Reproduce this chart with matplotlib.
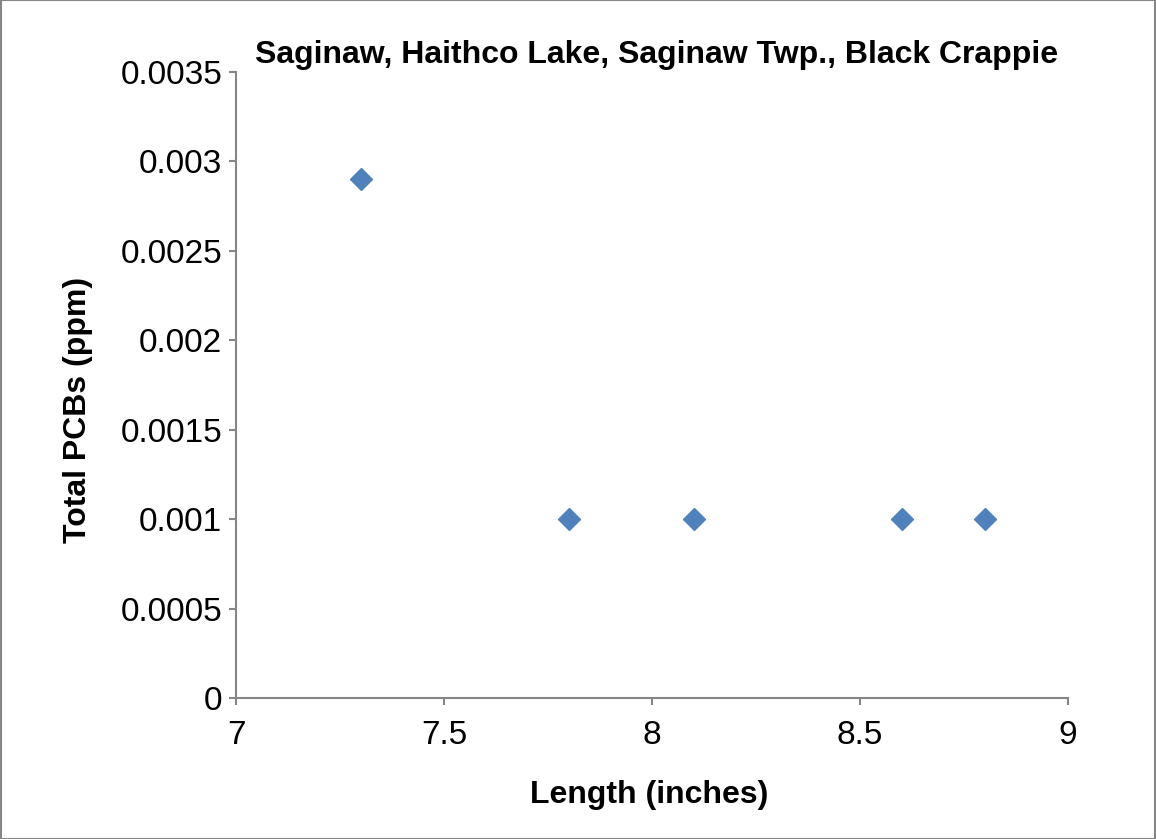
import matplotlib.pyplot as plt
from matplotlib.patches import Rectangle

length = [7.3, 7.8, 8.1, 8.6, 8.8]
pcbs = [0.0029, 0.001, 0.001, 0.001, 0.001]
yticks = [0, 0.0005, 0.001, 0.0015, 0.002, 0.0025, 0.003, 0.0035]
ylabels = ["0", "0.0005", "0.001", "0.0015", "0.002", "0.0025", "0.003", "0.0035"]
xticks = [7, 7.5, 8, 8.5, 9]
xlabels = ["7", "7.5", "8", "8.5", "9"]

plt.rcParams['font.family'] = ['Liberation Sans', 'DejaVu Sans']
fig = plt.figure(figsize=(11.56, 8.39), dpi=100)
ax = fig.add_axes([0.2042, 0.1681, 0.7197, 0.7461])

ax.plot(length, pcbs, linestyle='none', marker='D', ms=11,
        color='#4F81BD', markeredgecolor='#4F81BD', clip_on=False)

ax.set_xlim(7, 9)
ax.set_ylim(0, 0.0035)
ax.set_xticks(xticks)
ax.set_xticklabels(xlabels)
ax.set_yticks(yticks)
ax.set_yticklabels(ylabels)

for s in ['top', 'right']:
    ax.spines[s].set_visible(False)
for s in ['left', 'bottom']:
    ax.spines[s].set_color('#868686')
    ax.spines[s].set_linewidth(1.5)
ax.tick_params(length=5, width=1.5, color='#868686', labelsize=24, pad=5)
ax.tick_params(axis='x', pad=11)

fig.text(0.568, 0.9344, "Saginaw, Haithco Lake, Saginaw Twp., Black Crappie",
         ha='center', va='center', fontsize=23, fontweight='bold')
ax.set_xlabel("Length (inches)", fontsize=23, fontweight='bold', va='center')
ax.set_ylabel("Total PCBs (ppm)", fontsize=23, fontweight='bold', va='center')
ax.xaxis.set_label_coords(0.496, -0.155)
ax.yaxis.set_label_coords(-0.19, 0.46)

fig.patches.append(Rectangle((0.0005, 0.0005), 0.999, 0.999, transform=fig.transFigure,
                             fill=False, edgecolor='#868686', linewidth=1.5))

fig.savefig("out.png", dpi=100)
